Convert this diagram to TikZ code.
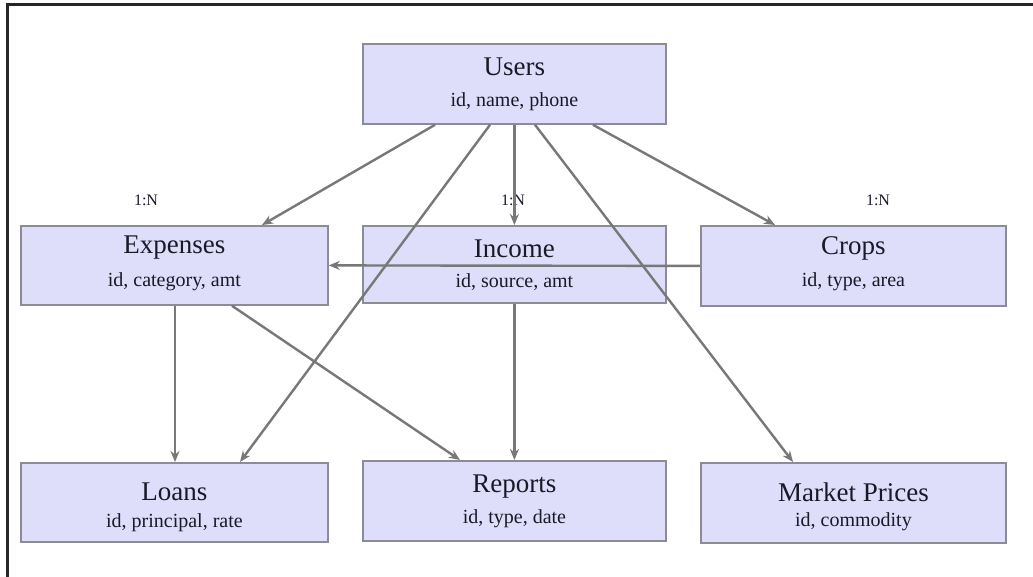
\documentclass[tikz,border=0pt]{standalone}
\usepackage{fontspec}
\setmainfont{Liberation Serif}
\usetikzlibrary{arrows.meta,calc}
\definecolor{boxfill}{RGB}{222,222,251}
\definecolor{boxline}{RGB}{140,140,150}
\definecolor{edgecol}{RGB}{120,120,120}
\definecolor{txt}{RGB}{25,25,40}
\tikzset{
  entity/.style={draw=boxline, fill=boxfill, line width=1.8pt, inner sep=0pt, anchor=north west},
  etitle/.style={text=txt, font=\fontsize{27}{30}\selectfont, inner sep=0pt},
  esub/.style={text=txt, font=\fontsize{20}{22}\selectfont, inner sep=0pt},
  card/.style={text=txt, font=\fontsize{16}{18}\selectfont, inner sep=0pt},
  rel/.style={draw=edgecol, line width=2.4pt, -{Stealth[length=11pt,width=9pt]}},
  frame/.style={draw=black!85, line width=3pt}
}
% #1 name, #2 x, #3 y, #4 w, #5 h, #6 title, #7 sub, #8 title offset, #9 sub offset
\newcommand{\entitybox}[9]{%
  \node[entity, minimum width=#4pt, minimum height=#5pt] (#1) at (#2,#3) {};
  \node[etitle] (#1-t) at ($(#1.north)+(0,#8)$) {#6};
  \node[esub] (#1-s) at ($(#1.north)+(0,#9)$) {#7};
}
\begin{document}
\begin{tikzpicture}[x=1pt,y=-1pt]
\useasboundingbox (0,0) rectangle (1033,577);
\fill[white] (0,0) rectangle (1033,577);
\coordinate (ftr) at (1033,5);
\coordinate (ftl) at (7,5);
\coordinate (fbl) at (7,577);
\draw[frame] (ftr) -- (ftl) -- (fbl);

\entitybox{users}{362}{43}{303}{80}{Users}{id, name, phone}{24}{59}
\entitybox{expenses}{20}{225}{307}{79}{Expenses}{id, category, amt}{23}{57}
\entitybox{income}{362}{225}{303}{77}{Income}{id, source, amt}{24}{57}
\entitybox{crops}{700}{225}{305}{80}{Crops}{id, type, area}{23}{57}
\entitybox{loans}{20}{462}{307}{79}{Loans}{id, principal, rate}{30}{61}
\entitybox{reports}{362}{460}{303}{80}{Reports}{id, type, date}{27}{59}
\entitybox{market}{700}{462}{305}{80}{Market Prices}{id, commodity}{30}{60}

\node[card] (c1) at (146,200) {1:N};
\node[card] (c2) at (513,200) {1:N};
\node[card] (c3) at (878,200) {1:N};

\draw[rel] ($(users.south west)+(73,0)$) -- ($(expenses.north west)+(242,0)$);
\draw[rel] (users.south) -- (income.north);
\draw[rel] ($(users.south west)+(231,0)$) -- ($(crops.north west)+(75,0)$);
\draw[rel] ($(users.south west)+(128,0)$) -- ($(loans.north west)+(220,0)$);
\draw[rel] ($(users.south west)+(173,0)$) -- ($(market.north west)+(93,0)$);
\draw[rel] (crops.west) -- (expenses.east);
\draw[rel] ($(expenses.south west)+(155,0)$) -- ($(loans.north west)+(155,0)$);
\draw[rel] ($(expenses.south west)+(212,0)$) -- ($(reports.north west)+(98,0)$);
\draw[rel] (income.south) -- (reports.north);
\end{tikzpicture}
\end{document}
